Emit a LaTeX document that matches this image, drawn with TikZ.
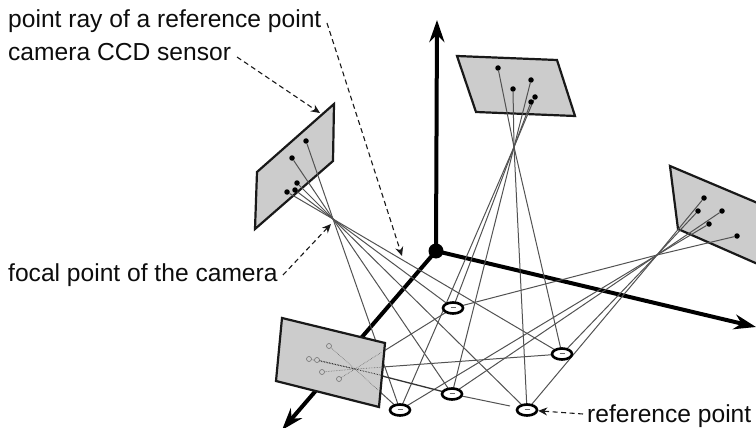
\documentclass[tikz,border=0pt]{standalone}
\usepackage{fontspec}
\setmainfont{Liberation Sans}
\usetikzlibrary{arrows.meta,shapes.geometric}
\tikzset{
  x=1pt,y=-1pt,
  lbl/.style={font=\fontsize{24.6}{28}\selectfont,inner sep=0pt,anchor=base west,text=black!95},
  sensor/.style={draw=black!90,line width=2.2pt,fill=black!20,line join=miter},
  ray/.style={draw=black!68,line width=1pt},
  faint/.style={draw=black!60,line width=0.6pt,densely dotted},
  img/.style={circle,fill=black,inner sep=0pt,minimum size=5.5pt},
  imgo/.style={circle,draw=black!55,fill=black!20,line width=0.6pt,inner sep=0pt,minimum size=5pt},
  axis/.style={draw=black,line width=4pt,-{Stealth[length=22pt,width=15pt]}},
  lead/.style={draw=black!90,line width=1.1pt,dash pattern=on 5pt off 3.5pt,-{Stealth[length=9pt,width=8pt]}},
  target/.style={ellipse,draw=black,line width=2.6pt,fill=white,minimum width=20pt,minimum height=11pt,inner sep=0pt}
}
\begin{document}
\begin{tikzpicture}
\useasboundingbox (0,0) rectangle (756,428);
% named points
\coordinate (O) at (436,251);
\coordinate (Xe) at (756,327);
\coordinate (Ye) at (437,20);
\coordinate (Ze) at (282,430);
\coordinate (f1) at (333,219);
\coordinate (f2) at (514,147);
\coordinate (f3) at (657,255);
\coordinate (f4) at (355,369);
\coordinate (A) at (453,308);
\coordinate (B) at (562,354);
\coordinate (C) at (452,394);
\coordinate (D) at (400,410);
\coordinate (E) at (527,410);
% axes
\draw[axis] (O) -- (Ye);
\draw[axis] (O) -- (Xe);
\draw[axis] (O) -- (Ze);
\node[circle,fill=black,inner sep=0pt,minimum size=15pt] (orig) at (O) {};
% sensors
\draw[sensor] (334,104) -- (333,161) -- (255,229) -- (257,172) -- cycle;
\draw[sensor] (457,56) -- (557,60) -- (575,116) -- (476,112) -- cycle;
\draw[sensor] (670,166) -- (760,204) -- (760,265) -- (678,229) -- cycle;
% rays from focal points to reference points
\foreach \f in {f1,f2,f3}
  \foreach \r in {A,B,C,D,E}
    \draw[ray] (\f) -- (\r);
\draw[ray] (f4) -- (A);
\draw[ray] (f4) -- (B);
\draw[ray,line width=1.3pt,draw=black!80] (f4) -- (C);
\draw[ray] (f4) -- (D);
\draw[ray] (C) -- (510,406);
% image points
\foreach \n/\p in {a/{306,141},b/{292,158},c/{297,183},d/{287,192},e/{295,190}} {
  \node[img] (s1\n) at (\p) {};
  \draw[ray] (s1\n) -- (f1);
}
\foreach \n/\p in {a/{498,68},b/{513,89},c/{531,80},d/{535,97},e/{531,102}} {
  \node[img] (s2\n) at (\p) {};
  \draw[ray] (s2\n) -- (f2);
}
\foreach \n/\p in {a/{704,198},b/{698,211},c/{722,211},d/{709,224},e/{737,236}} {
  \node[img] (s3\n) at (\p) {};
  \draw[ray] (s3\n) -- (f3);
}
% front sensor hides what lies behind it
\draw[sensor] (282,318) -- (385,343) -- (379,407) -- (276,381) -- cycle;
\foreach \n/\p in {a/{329,346},b/{309,359},c/{317,360},d/{322,372},e/{339,379}} {
  \node[imgo] (s4\n) at (\p) {};
  \draw[faint] (s4\n) -- (f4);
}
\draw[faint] (f4) -- (378,390);
\draw[faint] (f4) -- (385,367);
\draw[faint] (f4) -- (382,352);
\draw[faint,draw=black!85,line width=0.9pt] (s4c) -- (f4) -- (384,376);
% reference points
\foreach \r in {A,B,C,D,E} {
  \node[target] (t\r) at (\r) {};
  \draw[draw=black!60,line width=0.8pt] ([xshift=-2.5pt,yshift=0.5pt]\r) -- ([xshift=2.5pt,yshift=0.5pt]\r);
}
% labels
\node[lbl] (l1) at (8,28) {point ray of a reference point};
\node[lbl] (l2) at (8,61) {camera CCD sensor};
\node[lbl] (l3) at (8,281) {focal point of the camera};
\node[lbl] (l4) at (587,422) {reference point};
\coordinate (l1e) at (327,23);
\coordinate (l1t) at (402,256);
\coordinate (l2e) at (237,57);
\coordinate (l2t) at (320,113);
\coordinate (l3e) at (283,275);
\coordinate (l3t) at (331,224);
\coordinate (l4e) at (583,414);
\draw[lead] (l1e) -- (l1t);
\draw[lead] (l2e) -- (l2t);
\draw[lead] (l3e) -- (l3t);
\draw[lead] (l4e) -- (tE);
\end{tikzpicture}
\end{document}
